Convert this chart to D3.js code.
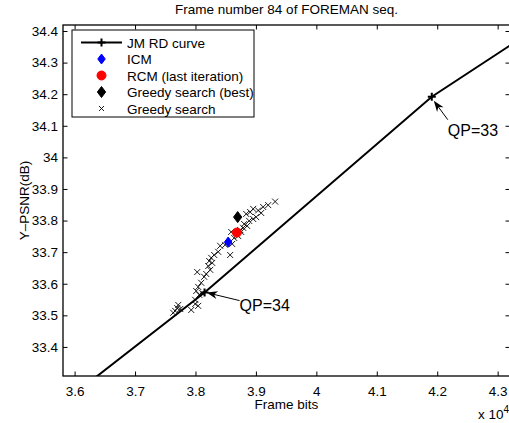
<!DOCTYPE html>
<html><head><meta charset="utf-8">
<script src="https://cdn.jsdelivr.net/npm/d3@7"></script>
<style>body{margin:0;background:#fff}svg{display:block}text{font-family:"Liberation Sans",Arial,sans-serif;}</style>
</head><body>
<svg id="c" width="509" height="423"></svg>
<script>
// JM RD curve (bits, Y-PSNR dB) for QP 35..32
const rdBits = [34305, 38150, 41910, 46360];
const rdPsnr = [33.000, 33.572, 34.192, 34.750];
const rdQP = [35, 34, 33, 32];
// ICM, RCM, greedy best
const icm = [[38541, 33.732]];
const rcm = [[38685, 33.762]];
const greedyBest = [[38698, 33.811]];
// Greedy search points
const greedyBits = [39318,39203,39120,39037,38955,38905,38839,38955,38888,38855,38789,38756,38707,38640,38591,38806,38574,38492,38409,38376,38310,38260,38227,38277,38211,38244,38178,38144,38029,38095,38045,38012,38062,37996,38045,37930,37996,37698,37665,37715,37632,37748,38111,38607,39004,39087,38740];
const greedyPsnr = [33.860,33.849,33.843,33.832,33.837,33.827,33.821,33.805,33.799,33.783,33.777,33.764,33.751,33.745,33.764,33.789,33.691,33.723,33.720,33.701,33.691,33.682,33.672,33.666,33.656,33.644,33.631,33.622,33.637,33.603,33.590,33.577,33.565,33.549,33.530,33.517,33.536,33.523,33.514,33.533,33.508,33.520,33.571,33.726,33.811,33.824,33.770];
const xTicks = [36000,37000,38000,39000,40000,41000,42000,43000];
const xTickLabels = ["3.6","3.7","3.8","3.9","4","4.1","4.2","4.3"];
const yTicks = [33.4,33.5,33.6,33.7,33.8,33.9,34,34.1,34.2,34.3,34.4];
const yTickLabels = ["33.4","33.5","33.6","33.7","33.8","33.9","34","34.1","34.2","34.3","34.4"];
const legendLabels = ["JM RD curve","ICM","RCM (last iteration)","Greedy search (best)","Greedy search"];
const annotations = [{qp:33, text:"QP=33"},{qp:34, text:"QP=34"}];

const svg = d3.select("#c");
const L=63, R=510, T=25, B=376;
const x = d3.scaleLinear().domain([35808, 43204]).range([L, R]);
const y = d3.scaleLinear().domain([33.308, 34.419]).range([B, T]);
const FS = "13.5px";

svg.append("defs").append("clipPath").attr("id","clip")
  .append("rect").attr("x",L).attr("y",T).attr("width",R-L).attr("height",B-T);

// title
svg.append("text").attr("x",(L+R)/2).attr("y",14).attr("text-anchor","middle")
  .style("font-size",FS).text("Frame number 84 of FOREMAN seq.");

// axes with inward ticks
const tl = 4.5;
const gx = svg.append("g").attr("transform",`translate(0,${B})`)
  .call(d3.axisBottom(x).tickValues(xTicks).tickFormat((d,i)=>xTickLabels[i]).tickSizeInner(-tl).tickSizeOuter(0).tickPadding(10));
const gxt = svg.append("g").attr("transform",`translate(0,${T})`)
  .call(d3.axisTop(x).tickValues(xTicks).tickFormat("").tickSizeInner(-tl).tickSizeOuter(0));
const gy = svg.append("g").attr("transform",`translate(${L},0)`)
  .call(d3.axisLeft(y).tickValues(yTicks).tickFormat((d,i)=>yTickLabels[i]).tickSizeInner(-tl).tickSizeOuter(0).tickPadding(5));
const gyr = svg.append("g").attr("transform",`translate(${R},0)`)
  .call(d3.axisRight(y).tickValues(yTicks).tickFormat("").tickSizeInner(-tl).tickSizeOuter(0));
[gx,gxt,gy,gyr].forEach(g=>{
  g.select(".domain").remove();
  g.selectAll("line").attr("stroke","#000").attr("stroke-width",1);
  g.selectAll("text").style("font-size",FS).attr("fill","#000").style("font-family","Liberation Sans, Arial, sans-serif");
});
svg.append("rect").attr("x",L).attr("y",T).attr("width",R-L).attr("height",B-T)
  .attr("fill","none").attr("stroke","#000").attr("stroke-width",1.3);

// axis labels
svg.append("text").attr("x",(L+R)/2).attr("y",409).attr("text-anchor","middle").style("font-size",FS).text("Frame bits");
svg.append("text").attr("transform",`translate(29,${(T+B)/2}) rotate(-90)`).attr("text-anchor","middle").style("font-size",FS).text("Y\u2013PSNR(dB)");
const ex = svg.append("text").attr("x",478).attr("y",419).style("font-size",FS);
ex.append("tspan").text("x 10");
ex.append("tspan").attr("dy",-6).style("font-size","10px").text("4");

const plot = svg.append("g").attr("clip-path","url(#clip)");

// RD curve
const rd = rdBits.map((b,i)=>[b, rdPsnr[i]]);
plot.append("path").datum(rd).attr("fill","none").attr("stroke","#000").attr("stroke-width",2)
  .attr("d", d3.line().x(d=>x(d[0])).y(d=>y(d[1])));
function plus(g, cx, cy, s, w){
  g.append("path").attr("d",`M${cx-s},${cy}H${cx+s}M${cx},${cy-s}V${cy+s}`).attr("stroke","#000").attr("stroke-width",w).attr("fill","none");
}
rd.forEach(d=>plus(plot, x(d[0]), y(d[1]), 4, 2));

// greedy search x marks
const xs = 3;
plot.selectAll(".gx").data(greedyBits.map((b,i)=>[b,greedyPsnr[i]])).enter().append("path")
  .attr("d",d=>{const cx=x(d[0]), cy=y(d[1]); return `M${cx-xs},${cy-xs}L${cx+xs},${cy+xs}M${cx-xs},${cy+xs}L${cx+xs},${cy-xs}`;})
  .attr("stroke","#000").attr("stroke-width",0.9).attr("fill","none");

function diamond(g, cx, cy, r, color){
  g.append("path").attr("d",`M${cx},${cy-r}L${cx+r*0.75},${cy}L${cx},${cy+r}L${cx-r*0.75},${cy}Z`).attr("fill",color).attr("stroke",color).attr("stroke-width",1);
}
icm.forEach(d=>diamond(plot, x(d[0]), y(d[1]), 5, "#0000ff"));
rcm.forEach(d=>plot.append("circle").attr("cx",x(d[0])).attr("cy",y(d[1])).attr("r",4.5).attr("fill","#ff0000").attr("stroke","#ff0000"));
greedyBest.forEach(d=>diamond(plot, x(d[0]), y(d[1]), 5.5, "#000"));

// annotations with arrows
function arrow(x1,y1,x2,y2){
  const ang = Math.atan2(y2-y1, x2-x1);
  const hl = 11, hw = 4;
  const bx = x2 - hl*Math.cos(ang), by = y2 - hl*Math.sin(ang);
  const nx = -Math.sin(ang), ny = Math.cos(ang);
  const mx = x2 - hl*0.7*Math.cos(ang), my = y2 - hl*0.7*Math.sin(ang);
  svg.append("line").attr("x1",x1).attr("y1",y1).attr("x2",mx).attr("y2",my).attr("stroke","#000").attr("stroke-width",1);
  svg.append("path").attr("d",`M${x2},${y2}L${bx+nx*hw},${by+ny*hw}L${mx},${my}L${bx-nx*hw},${by-ny*hw}Z`).attr("fill","#000");
}
annotations.forEach(a=>{
  const i = rdQP.indexOf(a.qp);
  const px = x(rdBits[i]), py = y(rdPsnr[i]);
  if(a.qp===33){
    arrow(px+16, py+23, px+2, py+4);
    svg.append("text").attr("x",px+16).attr("y",py+39).style("font-size","16px").text(a.text);
  } else {
    arrow(px+35, py+8, px+2, py);
    svg.append("text").attr("x",px+35).attr("y",py+18).style("font-size","16px").text(a.text);
  }
});

// legend
const lg = svg.append("g");
lg.append("rect").attr("x",72).attr("y",30).attr("width",182).attr("height",87).attr("fill","#fff").attr("stroke","#000").attr("stroke-width",1);
const ly = [42.5,59,75.5,92,108.5];
const mxL = 101.5;
lg.append("line").attr("x1",81).attr("x2",122).attr("y1",ly[0]).attr("y2",ly[0]).attr("stroke","#000").attr("stroke-width",2);
plus(lg, mxL, ly[0], 4, 2);
diamond(lg, mxL, ly[1], 5, "#0000ff");
lg.append("circle").attr("cx",mxL).attr("cy",ly[2]).attr("r",4.5).attr("fill","#ff0000").attr("stroke","#ff0000");
diamond(lg, mxL, ly[3], 5.5, "#000");
lg.append("path").attr("d",`M${mxL-2.5},${ly[4]-2.5}L${mxL+2.5},${ly[4]+2.5}M${mxL-2.5},${ly[4]+2.5}L${mxL+2.5},${ly[4]-2.5}`).attr("stroke","#000").attr("stroke-width",0.9);
legendLabels.forEach((t,i)=>lg.append("text").attr("x",127).attr("y",ly[i]+5).style("font-size",FS).text(t));
</script>
</body></html>
